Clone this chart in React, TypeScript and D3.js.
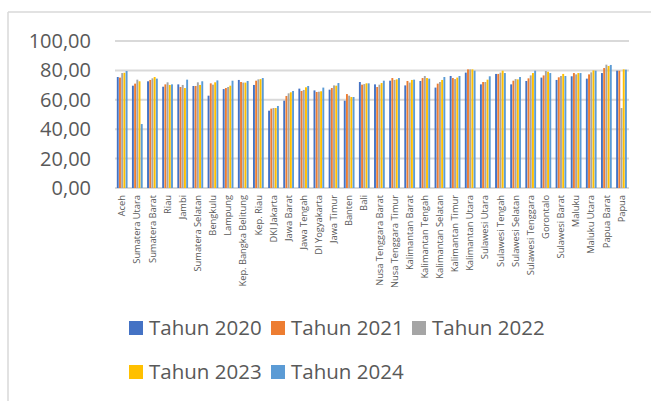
import React, { useEffect, useRef } from 'react';
import * as d3 from 'd3';

const WIDTH = 651;
const HEIGHT = 401;
const MARGIN = { top: 41, right: 22, bottom: 213, left: 115 };

const provinces = [
  'Aceh', 'Sumatera Utara', 'Sumatera Barat', 'Riau', 'Jambi', 'Sumatera Selatan',
  'Bengkulu', 'Lampung', 'Kep. Bangka Belitung', 'Kep. Riau', 'DKI Jakarta',
  'Jawa Barat', 'Jawa Tengah', 'DI Yogyakarta', 'Jawa Timur', 'Banten', 'Bali',
  'Nusa Tenggara Barat', 'Nusa Tenggara Timur', 'Kalimantan Barat', 'Kalimantan Tengah',
  'Kalimantan Selatan', 'Kalimantan Timur', 'Kalimantan Utara', 'Sulawesi Utara',
  'Sulawesi Tengah', 'Sulawesi Selatan', 'Sulawesi Tenggara', 'Gorontalo',
  'Sulawesi Barat', 'Maluku', 'Maluku Utara', 'Papua Barat', 'Papua',
];

const seriesNames = ['Tahun 2020', 'Tahun 2021', 'Tahun 2022', 'Tahun 2023', 'Tahun 2024'];
const colors = ['#4472C4', '#ED7D31', '#A5A5A5', '#FFC000', '#5B9BD5'];

const tahun2020 = [75.5, 69.6, 72.6, 68.9, 70.5, 69.4, 62.8, 67.3, 73.5, 70.1, 52.6, 59.4, 67.6, 66.4, 66.9, 59.4, 72.1, 70.5, 73.0, 69.8, 72.8, 68.3, 76.2, 78.5, 70.5, 77.6, 70.5, 72.8, 75.1, 73.5, 76.0, 74.4, 78.2, 79.8];
const tahun2021 = [75.1, 71.0, 73.5, 70.5, 68.7, 69.4, 71.2, 68.0, 72.1, 73.0, 54.0, 62.6, 66.0, 65.3, 68.0, 63.9, 70.3, 68.7, 74.8, 72.8, 74.8, 71.0, 74.8, 80.7, 72.1, 77.6, 73.0, 74.6, 76.6, 75.3, 78.2, 77.3, 81.6, 79.8];
const tahun2022 = [78.2, 73.7, 74.6, 71.9, 70.1, 71.9, 70.3, 68.7, 71.7, 73.9, 54.4, 64.4, 66.7, 65.5, 69.8, 62.8, 70.7, 70.3, 73.5, 71.7, 76.2, 72.1, 74.1, 80.7, 72.1, 78.5, 74.1, 76.6, 79.6, 76.2, 77.3, 78.7, 83.9, 54.4];
const tahun2023 = [78.4, 72.6, 75.5, 70.1, 68.0, 70.1, 71.9, 69.6, 71.7, 74.1, 54.4, 65.1, 68.5, 65.8, 69.6, 61.9, 71.2, 71.4, 73.9, 73.5, 74.8, 73.5, 75.1, 80.7, 73.7, 79.8, 73.9, 78.2, 79.1, 77.6, 78.2, 80.0, 83.0, 80.7];
const tahun2024 = [79.6, 43.5, 74.4, 70.5, 73.7, 72.6, 73.2, 73.0, 72.8, 74.8, 55.8, 66.0, 69.4, 68.3, 71.4, 61.9, 71.2, 73.0, 74.8, 73.7, 74.4, 75.5, 76.2, 79.8, 76.0, 78.2, 75.5, 79.8, 78.2, 76.2, 78.2, 79.8, 83.7, 80.5];
const seriesValues = [tahun2020, tahun2021, tahun2022, tahun2023, tahun2024];

const yTicks = [0, 20, 40, 60, 80, 100];

const App = () => {
  const svgRef = useRef(null);

  useEffect(() => {
    const svg = d3.select(svgRef.current);
    svg.selectAll('*').remove();

    const innerH = HEIGHT - MARGIN.top - MARGIN.bottom;

    const x = d3
      .scaleBand()
      .domain(provinces)
      .range([MARGIN.left, WIDTH - MARGIN.right])
      .paddingInner(0.27)
      .paddingOuter(0.12);

    const x1 = d3.scaleBand().domain(seriesNames).range([0, x.bandwidth()]);

    const y = d3
      .scaleLinear()
      .domain([0, 100])
      .range([MARGIN.top + innerH, MARGIN.top]);

    // chart frame (only top and left edges visible)
    svg.append('line')
      .attr('x1', 8).attr('x2', WIDTH).attr('y1', 12).attr('y2', 12)
      .attr('stroke', '#D9D9D9').attr('stroke-width', 1.5);
    svg.append('line')
      .attr('x1', 8).attr('x2', 8).attr('y1', 12).attr('y2', HEIGHT)
      .attr('stroke', '#D9D9D9').attr('stroke-width', 1.5);

    // gridlines
    svg.append('g')
      .selectAll('line')
      .data(yTicks)
      .join('line')
      .attr('x1', MARGIN.left)
      .attr('x2', WIDTH - MARGIN.right)
      .attr('y1', (d) => y(d))
      .attr('y2', (d) => y(d))
      .attr('stroke', '#D9D9D9')
      .attr('stroke-width', 2);

    // y labels
    svg.append('g')
      .selectAll('text')
      .data(yTicks)
      .join('text')
      .attr('x', 91)
      .attr('y', (d) => y(d))
      .attr('dy', '0.35em')
      .attr('text-anchor', 'end')
      .attr('font-family', '"Open Sans", sans-serif')
      .attr('font-size', 20)
      .attr('fill', '#595959')
      .text((d) => d3.format('.2f')(d).replace('.', ','));

    // bars
    const groups = svg.append('g')
      .selectAll('g')
      .data(provinces)
      .join('g')
      .attr('transform', (d) => `translate(${x(d)},0)`);

    groups
      .selectAll('rect')
      .data((d, i) => seriesNames.map((s, k) => ({ s, v: seriesValues[k][i], c: colors[k] })))
      .join('rect')
      .attr('x', (d) => x1(d.s))
      .attr('width', x1.bandwidth() - 0.3)
      .attr('y', (d) => y(d.v))
      .attr('height', (d) => y(0) - y(d.v))
      .attr('fill', (d) => d.c);

    // category labels
    svg.append('g')
      .selectAll('text')
      .data(provinces)
      .join('text')
      .attr('transform', (d) => `translate(${x(d) + x.bandwidth() / 2 + 3},195) rotate(-90)`)
      .attr('text-anchor', 'end')
      .attr('font-family', '"Open Sans", sans-serif')
      .attr('font-size', 9.3)
      .attr('fill', '#595959')
      .text((d) => d);

    // legend
    const legendPos = [
      [129, 328], [271, 328], [412, 328],
      [129, 372], [271, 372],
    ];
    const legend = svg.append('g')
      .selectAll('g')
      .data(seriesNames)
      .join('g')
      .attr('transform', (d, i) => `translate(${legendPos[i][0]},${legendPos[i][1]})`);
    legend.append('rect')
      .attr('x', 0).attr('y', -7).attr('width', 14).attr('height', 14)
      .attr('fill', (d, i) => colors[i]);
    legend.append('text')
      .attr('x', 20)
      .attr('dy', '0.35em')
      .attr('font-family', '"Open Sans", sans-serif')
      .attr('font-size', 20.5)
      .attr('fill', '#595959')
      .text((d) => d);
  }, []);

  return (
    <svg
      ref={svgRef}
      width={WIDTH}
      height={HEIGHT}
      style={{ position: 'absolute', left: 0, top: 0, background: '#fff' }}
    />
  );
};

export default App;
